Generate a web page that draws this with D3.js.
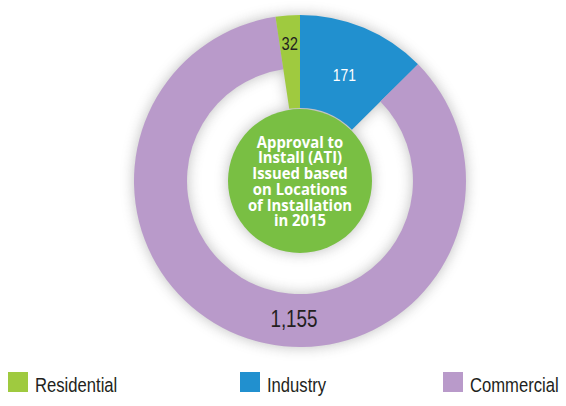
<!DOCTYPE html>
<html>
<head>
<meta charset="utf-8">
<script src="https://cdn.jsdelivr.net/npm/d3@7"></script>
<style>
  body { margin: 0; background: #fff; }
  svg { display: block; }
</style>
</head>
<body>
<svg width="566" height="406"></svg>
<script>
// data
var categories = ["Industry", "Commercial", "Residential"],
    values = [171, 1155, 32],
    valueLabels = ["171", "1,155", "32"],
    legendOrder = ["Residential", "Industry", "Commercial"],
    titleLines = ["Approval to", "Install (ATI)", "Issued based", "on Locations", "of Installation", "in 2015"];

var svg = d3.select("svg"),
    width = +svg.attr("width"),
    height = +svg.attr("height");

var cx = 300, cy = 181,
    outerR = 166,
    holeR = 113,      // inner edge of the big purple slice
    coreR = 72;       // green centre disc

var color = d3.scaleOrdinal()
    .domain(["Residential", "Industry", "Commercial"])
    .range(["#9fca3f", "#2190cf", "#b99aca"]);

// no condensed face installed, so squeeze Liberation Sans horizontally
var narrow = "'Liberation Sans', Arial, sans-serif",
    squeeze = 0.82;

var data = categories.map(function(c, i) {
  return { name: c, value: values[i], label: valueLabels[i] };
});

var pie = d3.pie()
    .sort(null)
    .value(function(d) { return d.value; });

var arc = d3.arc()
    .outerRadius(outerR)
    .innerRadius(function(d) { return d.data.name === "Commercial" ? holeR : coreR + 1; });

var arcs = pie(data);

// soft shadow behind everything
var defs = svg.append("defs");
defs.append("filter")
    .attr("id", "soft")
    .attr("x", "-30%").attr("y", "-30%")
    .attr("width", "160%").attr("height", "160%")
  .append("feGaussianBlur")
    .attr("stdDeviation", 7);

var g = svg.append("g")
    .attr("transform", "translate(" + cx + "," + cy + ")");

var shadow = g.append("g")
    .attr("filter", "url(#soft)")
    .attr("opacity", 0.38);

shadow.selectAll("path")
    .data(arcs)
    .enter().append("path")
    .attr("d", arc)
    .attr("fill", "#555");

shadow.append("circle")
    .attr("r", coreR)
    .attr("fill", "#555");

// the slices
g.selectAll("path.slice")
    .data(arcs)
    .enter().append("path")
    .attr("class", "slice")
    .attr("d", arc)
    .attr("fill", function(d) { return color(d.data.name); });

// centre disc
g.append("circle")
    .attr("r", coreR)
    .attr("fill", "#79bf43");

// value labels (angle in degrees, radius)
var labelSpot = {
  Industry: { r: 115, size: 17, fill: "#fff" },
  Commercial: { r: 138, angle: 182.5, size: 23, fill: "#231f20" },
  Residential: { r: 138, size: 18, fill: "#231f20" }
};

g.selectAll("text.val")
    .data(arcs)
    .enter().append("text")
    .attr("class", "val")
    .attr("text-anchor", "middle")
    .attr("dy", "0.36em")
    .attr("font-family", narrow)
    .attr("font-size", function(d) { return labelSpot[d.data.name].size; })
    .attr("fill", function(d) { return labelSpot[d.data.name].fill; })
    .attr("transform", function(d) {
      var s = labelSpot[d.data.name],
          a = s.angle != null ? s.angle * Math.PI / 180 : (d.startAngle + d.endAngle) / 2;
      return "translate(" + (s.r * Math.sin(a)) + "," + (-s.r * Math.cos(a)) + ") scale(" + squeeze + ",1)";
    })
    .text(function(d) { return d.data.label; });

// centre title
var lineH = 15.8;
g.append("text")
    .attr("text-anchor", "middle")
    .attr("font-family", "'Open Sans', sans-serif")
    .attr("font-weight", "bold")
    .attr("font-size", 16.5)
    .attr("fill", "#fff")
    .attr("transform", "scale(0.9,1)")
    .selectAll("tspan")
    .data(titleLines)
    .enter().append("tspan")
    .attr("x", 0)
    .attr("y", function(d, i) { return (i - (titleLines.length - 1) / 2) * lineH + 6; })
    .text(function(d) { return d; });

// legend
var legendX = d3.scaleOrdinal()
    .domain(legendOrder)
    .range([8, 240, 443]);

var legend = svg.append("g")
    .selectAll("g")
    .data(legendOrder)
    .enter().append("g")
    .attr("transform", function(d) { return "translate(" + legendX(d) + ",372)"; });

legend.append("rect")
    .attr("width", 20)
    .attr("height", 20)
    .attr("fill", function(d) { return color(d); });

legend.append("text")
    .attr("transform", "translate(27,20) scale(" + squeeze + ",1)")
    .attr("font-family", narrow)
    .attr("font-size", 20.3)
    .attr("fill", "#231f20")
    .text(function(d) { return d; });
</script>
</body>
</html>
